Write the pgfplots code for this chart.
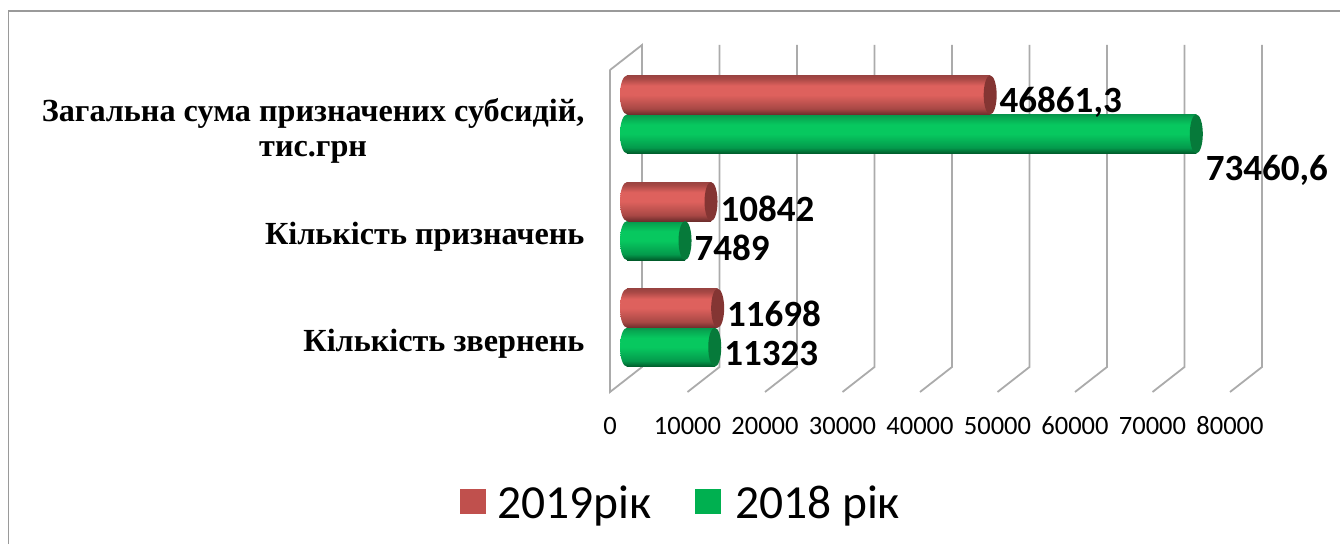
\documentclass[border=0pt]{standalone}
\usepackage{pgfplots}
\pgfplotsset{compat=1.18}
\usepackage{fontspec}
\setmainfont{Carlito}
\newfontfamily\serifb{Liberation Serif}
\definecolor{gridc}{HTML}{ABABAB}
\definecolor{frame}{HTML}{9A9A9A}
\definecolor{capr}{HTML}{843533}
\definecolor{capg}{HTML}{067A3A}
\definecolor{ra}{HTML}{6E2D2C}
\definecolor{rb}{HTML}{A84845}
\definecolor{rc}{HTML}{DE615D}
\definecolor{rd}{HTML}{9A4341}
\definecolor{ga}{HTML}{005A2A}
\definecolor{gb}{HTML}{049A4C}
\definecolor{gc}{HTML}{07C85F}
\definecolor{gd}{HTML}{07A852}
\definecolor{ge}{HTML}{06964C}
\definecolor{legr}{HTML}{C0504D}
\definecolor{legg}{HTML}{00B050}
\pgfdeclareverticalshading{redcyl}{100bp}{color(0bp)=(ra);color(25bp)=(ra);color(32.5bp)=(rb);color(50bp)=(rc);color(62bp)=(rc);color(71bp)=(rb);color(75bp)=(rd);color(100bp)=(rd)}
\pgfdeclareverticalshading{greencyl}{100bp}{color(0bp)=(ga);color(25bp)=(ga);color(32.5bp)=(gb);color(50bp)=(gc);color(62bp)=(gc);color(71bp)=(gd);color(75bp)=(ge);color(100bp)=(ge)}
\pgfdeclareplotmark{capred}{\path[fill=capr,draw=none] (0pt,0pt) ellipse (6.5pt and 19.5pt);}
\pgfdeclareplotmark{capgreen}{\path[fill=capg,draw=none] (0pt,0pt) ellipse (6.5pt and 19.5pt);}
\pgfdeclareplotmark{leftred}{\path[shading=redcyl,draw=none] (0pt,0pt) ellipse (7pt and 19.5pt);}
\pgfdeclareplotmark{leftgreen}{\path[shading=greencyl,draw=none] (0pt,0pt) ellipse (7pt and 19.5pt);}
\pgfplotstableread{
v c lab dy z
11698 0.183 11698 -6 0
10842 1.183 10842 -7 0
46861.3 2.183 46861,3 -7 0
}\redtable
\pgfplotstableread{
v c lab dy z
11323 -0.183 11323 -6 0
7489 0.817 7489 -7 0
73460.6 1.817 73460,6 -36 0
}\greentable
\pgfplotsset{
  shifted/.style={xshift=17pt,yshift=11pt,forget plot},
  onebar/.style={shifted,xbar,bar width=39pt,bar shift=0pt,draw=none,shading=#1},
  ends/.style={shifted,only marks,mark=#1,draw=none,mark options={draw=none}},
  labelled/.style={
    point meta=explicit symbolic,
    visualization depends on={\thisrow{dy} \as \dy},
    nodes near coords,
    every node near coord/.append style={anchor=west,font=\bfseries\fontsize{37}{40}\selectfont,color=black,xshift=6pt,yshift=\dy pt}},
  rowa/.style={skip coords between index={1}{3}},
  rowb/.style={skip coords between index={0}{1},skip coords between index={2}{3}},
  rowc/.style={skip coords between index={0}{2}},
}
\begin{document}
\begin{tikzpicture}
\useasboundingbox (0pt,0pt) rectangle (1340pt,544pt);
\draw[frame,line width=1.5pt] (8.5pt,0pt) -- (8.5pt,533pt) -- (1340pt,533pt);
\begin{axis}[
  at={(610pt,152pt)},anchor=south west,
  scale only axis,width=620pt,height=322pt,
  xmin=0,xmax=80000,ymin=-0.5,ymax=2.52,
  clip=false,
  axis line style={draw=none},
  major tick length=0pt,
  xtick={0,10000,20000,30000,40000,50000,60000,70000,80000},
  ytick={0,1,2},
  yticklabels={{Кількість звернень},{Кількість призначень},{Загальна сума призначених субсидій,\\тис.грн}},
  scaled x ticks=false,
  xticklabel style={/pgf/number format/1000 sep={},/pgf/number format/assume math mode=true,font=\fontsize{26.5}{28}\selectfont,text height=17pt,text depth=0pt,yshift=-22pt},
  yticklabel style={font=\serifb\bfseries\fontsize{32.2}{35}\selectfont,align=center,xshift=-22pt,yshift=-5pt,color=black},
  legend style={at={(0.1145,-0.345)},anchor=center,draw=none,fill=none,legend columns=2,
    font=\fontsize{47.5}{50}\selectfont,
    /tikz/every even column/.append style={column sep=41pt},
    /tikz/every odd column/.append style={column sep=10pt}},
]
% walls and grid
\addplot[forget plot,gridc,line width=1.8pt,unbounded coords=jump] coordinates {
 (0,2.52)(0,-0.5)(4129,-0.2655)(4129,2.7545)(0,2.52)
 (nan,nan)
 (10000,-0.5)(14129,-0.2655)(14129,2.7545)
 (nan,nan)
 (20000,-0.5)(24129,-0.2655)(24129,2.7545)
 (nan,nan)
 (30000,-0.5)(34129,-0.2655)(34129,2.7545)
 (nan,nan)
 (40000,-0.5)(44129,-0.2655)(44129,2.7545)
 (nan,nan)
 (50000,-0.5)(54129,-0.2655)(54129,2.7545)
 (nan,nan)
 (60000,-0.5)(64129,-0.2655)(64129,2.7545)
 (nan,nan)
 (70000,-0.5)(74129,-0.2655)(74129,2.7545)
 (nan,nan)
 (80000,-0.5)(84129,-0.2655)(84129,2.7545)
};
% rounded left ends
\addplot[ends=leftgreen] table[x=z,y=c]{\greentable};
\addplot[ends=leftred] table[x=z,y=c]{\redtable};
% bars, one plot each so that each has its own cylinder shading
\addplot[onebar=greencyl,rowa] table[x=v,y=c]{\greentable};
\addplot[onebar=greencyl,rowb] table[x=v,y=c]{\greentable};
\addplot[onebar=greencyl,rowc] table[x=v,y=c]{\greentable};
\addplot[onebar=redcyl,rowa] table[x=v,y=c]{\redtable};
\addplot[onebar=redcyl,rowb] table[x=v,y=c]{\redtable};
\addplot[onebar=redcyl,rowc] table[x=v,y=c]{\redtable};
% end caps with the value labels
\addplot[ends=capgreen,labelled] table[x=v,y=c,meta=lab]{\greentable};
\addplot[ends=capred,labelled] table[x=v,y=c,meta=lab]{\redtable};
\addlegendimage{legend image code/.code={\fill[legr] (0pt,-10pt) rectangle (25pt,14pt);}}
\addlegendentry{2019рік}
\addlegendimage{legend image code/.code={\fill[legg] (0pt,-10pt) rectangle (25pt,14pt);}}
\addlegendentry{\hspace{3pt}2018 рік}
\end{axis}
\end{tikzpicture}
\end{document}
